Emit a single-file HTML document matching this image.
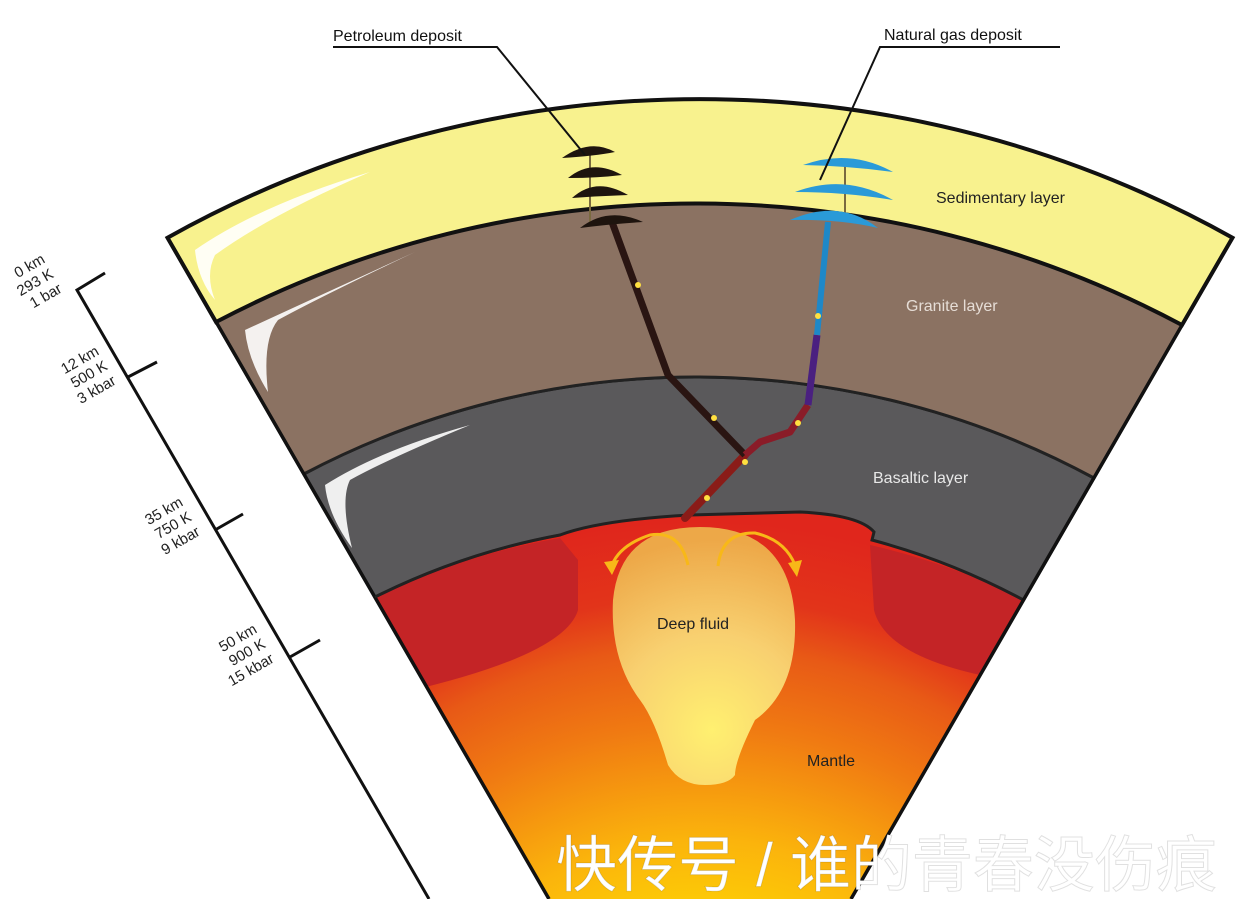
<!DOCTYPE html>
<html><head><meta charset="utf-8"><style>
html,body{margin:0;padding:0;background:#fff;overflow:hidden;width:1238px;height:899px}
svg{display:block}
text{font-family:"Liberation Sans",Arial,sans-serif}
</style></head><body>
<svg width="1238" height="899" viewBox="0 0 1238 899" xmlns="http://www.w3.org/2000/svg">
<defs>
<radialGradient id="mg" cx="700" cy="1160" r="640" gradientUnits="userSpaceOnUse">
<stop offset="0.3" stop-color="#ffe000"/>
<stop offset="0.5" stop-color="#fbb40c"/>
<stop offset="0.68" stop-color="#f07a12"/>
<stop offset="0.8" stop-color="#e85a16"/>
<stop offset="0.88" stop-color="#e2341a"/>
<stop offset="1" stop-color="#e0261c"/>
</radialGradient>
<radialGradient id="pg" cx="712" cy="730" r="190" gradientUnits="userSpaceOnUse">
<stop offset="0" stop-color="#fff070"/>
<stop offset="0.5" stop-color="#f8d070"/>
<stop offset="1" stop-color="#eda848"/>
</radialGradient>
<clipPath id="wedge"><path d="M167.5,237.7 L1232.5,237.7 L700,1160 Z"/></clipPath>
</defs>

<g clip-path="url(#wedge)">
<rect x="300" y="500" width="800" height="420" fill="url(#mg)"/>
<path d="M375,597 A700,700 0 0 1 560,538 L578,560 L578,610 Q565,655 405,692 Z" fill="#c42426"/>
<path d="M870,545 A700,700 0 0 1 1025,600 L985,676 Q885,655 874,610 Z" fill="#c42426"/>
</g>

<path d="M303.8,474 A838,838 0 0 1 1094,478 L1023.5,600 A700,700 0 0 0 872,540 L874,532 Q860,515 800,512 L690,515 Q600,520 560,535 A700,700 0 0 0 375,597 Z" fill="#5a595b" stroke="#222" stroke-width="3"/>
<path d="M216,322 A1032,1032 0 0 1 1182,325 L1094,478 A838,838 0 0 0 303.8,474 Z" fill="#8b7262" stroke="#222" stroke-width="3"/>
<path d="M167.5,237.7 A1092,1092 0 0 1 1232.5,237.7 L1182,325 A1032,1032 0 0 0 216,322 Z" fill="#f8f28e" stroke="#111" stroke-width="4"/>
<path d="M167.5,237.7 L549,899 M1232.5,237.7 L851,899" stroke="#111" stroke-width="3.5" fill="none"/>
<path d="M375,597 A700,700 0 0 1 560,535" stroke="#222" stroke-width="2.5" fill="none"/>

<path d="M195,250 Q260,205 370,172 Q270,215 215,255 Q205,275 215,300 Q198,280 195,250 Z" fill="#fff" opacity="0.9"/>
<path d="M245,330 Q310,300 415,252 Q320,297 278,320 Q262,340 268,392 Q248,360 245,330 Z" fill="#fff" opacity="0.9"/>
<path d="M325,485 Q380,450 470,425 Q390,458 350,480 Q340,500 352,548 Q328,515 325,485 Z" fill="#fff" opacity="0.9"/>

<path d="M700,527 Q790,527 795,620 Q797,690 755,720 Q735,760 735,775 Q728,785 705,785 Q680,785 668,765 Q655,720 640,700 Q610,660 613,600 Q620,527 700,527 Z" fill="url(#pg)"/>
<path d="M688,565 Q680,530 650,535 Q620,545 612,565" stroke="#f8b818" stroke-width="3" fill="none"/>
<path d="M604,562 L612,575 L619,560 Z" fill="#f8b818"/>
<path d="M718,566 Q722,532 755,533 Q785,540 795,565" stroke="#f8b818" stroke-width="3" fill="none"/>
<path d="M788,563 L797,577 L802,560 Z" fill="#f8b818"/>

<path d="M685,518 L745,455" stroke="#8a1c18" stroke-width="8" fill="none" stroke-linecap="round"/>
<path d="M745,455 L668,375 L612,222" stroke="#2a1512" stroke-width="7" fill="none" stroke-linejoin="round"/>
<path d="M745,455 L760,442 L790,432 L808,405" stroke="#8a1c28" stroke-width="7" fill="none" stroke-linejoin="round"/>
<path d="M808,405 L817,335" stroke="#4a2080" stroke-width="7" fill="none"/>
<path d="M817,335 L828,222" stroke="#1e88c8" stroke-width="6" fill="none"/>
<g fill="#ffe040">
<circle cx="638" cy="285" r="3"/><circle cx="714" cy="418" r="3"/><circle cx="745" cy="462" r="3"/><circle cx="707" cy="498" r="3"/><circle cx="798" cy="423" r="3"/><circle cx="818" cy="316" r="3"/>
</g>
<path d="M590,150 L590,222 M845,165 L845,222" stroke="#7a6a40" stroke-width="2"/>
<g fill="#1e140e">
<path d="M562,158 Q590,138 615,152 Q595,156 562,158 Z"/>
<path d="M568,178 Q592,158 622,175 Q598,178 568,178 Z"/>
<path d="M572,198 Q596,176 628,195 Q600,196 572,198 Z"/>
<path d="M580,228 Q608,206 643,222 Q610,224 580,228 Z"/>
</g>
<g fill="#2a9ad8">
<path d="M803,165 Q850,148 893,172 Q850,166 803,165 Z"/>
<path d="M795,192 Q845,173 893,200 Q845,192 795,192 Z"/>
<path d="M790,220 Q840,198 878,228 Q840,219 790,220 Z"/>
</g>

<path d="M333,47 L497,47 L585,155" stroke="#111" stroke-width="2" fill="none"/>
<path d="M1060,47 L880,47 L820,180" stroke="#111" stroke-width="2" fill="none"/>
<text x="333" y="41" font-size="16" fill="#111">Petroleum deposit</text>
<text x="884" y="40" font-size="16" fill="#111">Natural gas deposit</text>

<text x="936" y="203" font-size="16" fill="#222">Sedimentary layer</text>
<text x="906" y="311" font-size="16" fill="#e6ddd6">Granite layer</text>
<text x="873" y="483" font-size="16" fill="#e8e8e8">Basaltic layer</text>
<text x="657" y="629" font-size="16" fill="#222">Deep fluid</text>
<text x="807" y="766" font-size="16" fill="#222">Mantle</text>

<path d="M105,273 L77,290 L429,899 M128,377 L157,362 M215,530 L243,514 M290,657 L320,640" stroke="#111" stroke-width="3" fill="none"/>
<g font-size="15" fill="#222" text-anchor="end">
<g transform="translate(46,262) rotate(-30)"><text x="0" y="0">0 km</text><text x="0" y="17">293 K</text><text x="0" y="34">1 bar</text></g>
<g transform="translate(100,354) rotate(-30)"><text x="0" y="0">12 km</text><text x="0" y="17">500 K</text><text x="0" y="34">3 kbar</text></g>
<g transform="translate(184,505) rotate(-30)"><text x="0" y="0">35 km</text><text x="0" y="17">750 K</text><text x="0" y="34">9 kbar</text></g>
<g transform="translate(258,632) rotate(-30)"><text x="0" y="0">50 km</text><text x="0" y="17">900 K</text><text x="0" y="34">15 kbar</text></g>
</g>

<text x="556" y="886" font-size="61" fill="#fff" style="font-family:'Liberation Sans','Noto Sans CJK SC',sans-serif" stroke="rgba(0,0,0,0.12)" stroke-width="1">快传号 / 谁的青春没伤痕</text>
</svg>
</body></html>
